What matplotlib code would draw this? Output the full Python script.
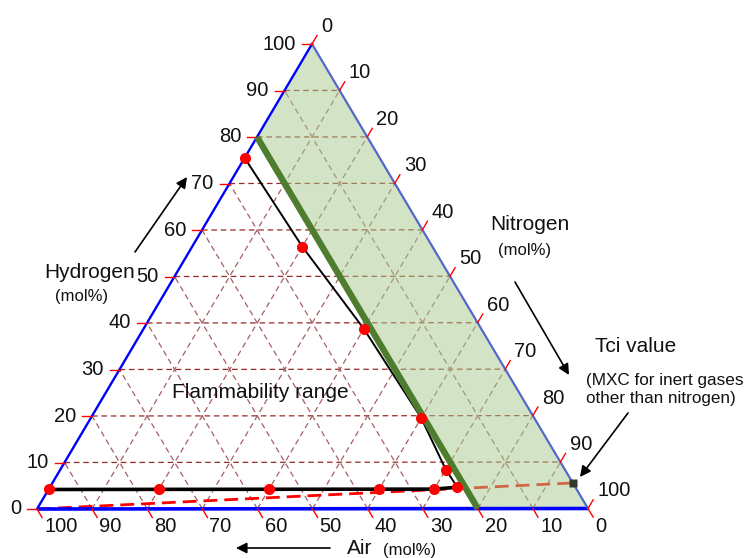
import matplotlib
matplotlib.use('Agg')
import matplotlib.pyplot as plt
from matplotlib.patches import Polygon
import numpy as np

plt.rcParams['font.family'] = ['Liberation Sans', 'DejaVu Sans']

# ---------------- data (mol%) ----------------
tick_values = [0, 10, 20, 30, 40, 50, 60, 70, 80, 90, 100]
grid_values = [10, 20, 30, 40, 50, 60, 70, 80, 90]

# upper flammability branch: hydrogen / nitrogen
upper_h2 = [75.5, 56.4, 38.7, 19.5, 8.4, 4.6]
upper_n2 = [0, 20, 40, 60, 70, 74]
# lower flammability branch
lower_h2 = [4.2, 4.2, 4.2, 4.2, 4.2, 4.6]
lower_n2 = [0, 20, 40, 60, 70, 74]
# Tci point (on H2/N2 side) and air limit line
tci_h2, tci_n2 = 5.5, 94.5
air_limit = 20

# ---------------- geometry ----------------
BL = (37.0, 509.0)   # Air 100
BR = (588.0, 508.5)  # N2 100
TOP = (312.0, 44.0)  # H2 100


def P(h, n):
    h = np.asarray(h, dtype=float) / 100.0
    n = np.asarray(n, dtype=float) / 100.0
    x = BL[0] + n * (BR[0] - BL[0]) + h * (TOP[0] - BL[0])
    y = BL[1] + n * (BR[1] - BL[1]) + h * (TOP[1] - BL[1])
    return x, y


fig = plt.figure(figsize=(7.5, 5.58), dpi=100)
ax = fig.add_axes([0, 0, 1, 1])
ax.set_xlim(0, 750)
ax.set_ylim(558, 0)
ax.axis('off')

grid_h_col = '#992A2A'
grid_s_col = '#A46060'
dash = (0, (4.5, 3.0))

# horizontal grid (constant H2)
for v in grid_values:
    x, y = P([v, v], [0, 100 - v])
    ax.plot(x, y, color=grid_h_col, lw=0.9, ls=dash, zorder=1)
# constant N2 (parallel to left side)
for v in grid_values:
    x, y = P([0, 100 - v], [v, v])
    ax.plot(x, y, color=grid_s_col, lw=0.9, ls=dash, zorder=1)
# constant Air (parallel to right side)
for v in grid_values:
    x, y = P([0, 100 - v], [100 - v, 0])
    ax.plot(x, y, color=grid_s_col, lw=0.9, ls=dash, zorder=1)

# red dashed line from Air vertex to Tci
x, y = P([0, tci_h2], [0, tci_n2])
ax.plot(x, y, color='#FF0000', lw=2.0, ls=(0, (5, 2.5)), zorder=2)

# green region: air < air_limit
gx, gy = P([100, 100 - air_limit, 0, 0], [0, 0, 100 - air_limit, 100])
ax.add_patch(Polygon(np.column_stack([gx, gy]), closed=True,
                     facecolor='#A7CB8D', edgecolor='none', alpha=0.5, zorder=3))

# triangle edges
x, y = P([0, 0], [0, 100])
ax.plot(x, y, color='#0000FF', lw=2.6, zorder=4, solid_capstyle='butt')
x, y = P([0, 100], [0, 0])
ax.plot(x, y, color='#0000FF', lw=1.7, zorder=4)
x, y = P([100, 0], [0, 100])
ax.plot(x, y, color='#5468CC', lw=1.6, zorder=4)

# ticks and labels
tl = 10.0
tfs = 14.5
for v in tick_values:
    # hydrogen (left side) - horizontal ticks
    x0, y0 = P(v, 0)
    ax.plot([x0 - tl, x0], [y0, y0], color='#FF0000', lw=1.0, zorder=4)
    ax.text(x0 - tl - 6, y0, str(v), ha='right', va='center', fontsize=tfs, color='#111111')
    # air (bottom) - ticks down-right
    x0, y0 = P(0, 100 - v)
    dx, dy = 0.51 * tl, 0.86 * tl
    ax.plot([x0, x0 + dx], [y0, y0 + dy], color='#FF0000', lw=1.0, zorder=4)
    ax.text(x0 + dx + 2, y0 + dy + 9, str(v), ha='left', va='center', fontsize=tfs, color='#111111')
    # nitrogen (right side) - ticks up-right
    x0, y0 = P(100 - v, v)
    dx, dy = 0.51 * tl, -0.86 * tl
    ax.plot([x0, x0 + dx], [y0, y0 + dy], color='#FF0000', lw=1.0, zorder=4)
    ax.text(x0 + dx + 4, y0 + dy - 9, str(v), ha='left', va='center', fontsize=tfs, color='#111111')

# flammability boundary
x, y = P(upper_h2, upper_n2)
ax.plot(x, y, color='black', lw=1.4, zorder=5)
x, y = P(lower_h2, lower_n2)
ax.plot(x, y, color='black', lw=2.6, zorder=5)

# air-limit line (green)
x, y = P([100 - air_limit, 0], [0, 100 - air_limit])
ax.plot(x, y, color='#4F7D2F', lw=4.6, zorder=6, solid_capstyle='butt')

# red data points
x, y = P(upper_h2, upper_n2)
ax.plot(x, y, 'o', color='#FF0000', ms=8, zorder=7, mec='none')
x, y = P(lower_h2[:-1], lower_n2[:-1])
ax.plot(x, y, 'o', color='#FF0000', ms=8, zorder=7, mec='none')

# Tci marker
x, y = P(tci_h2, tci_n2)
ax.plot(x, y, 's', color='#2F3A28', ms=6, zorder=8, mec='none')

# annotations
fs = 15
ax.text(44, 273, 'Hydrogen', ha='left', va='center', fontsize=fs, color='#111111')
ax.text(55, 296, '(mol%)', ha='left', va='center', fontsize=12, color='#111111')
ax.text(490, 224, 'Nitrogen', ha='left', va='center', fontsize=fs, color='#111111')
ax.text(498, 250, '(mol%)', ha='left', va='center', fontsize=12, color='#111111')
ax.text(595, 346, 'Tci value', ha='left', va='center', fontsize=fs, color='#111111')
ax.text(586, 380, '(MXC for inert gases', ha='left', va='center', fontsize=12.3, color='#111111')
ax.text(586, 398, 'other than nitrogen)', ha='left', va='center', fontsize=12.3, color='#111111')
ax.text(172, 393, 'Flammability range', ha='left', va='center', fontsize=fs, color='#111111')
ax.text(347, 548, 'Air', ha='left', va='center', fontsize=fs, color='#111111')
ax.text(383, 551, '(mol%)', ha='left', va='center', fontsize=12, color='#111111')

ap = dict(arrowstyle='-|>', color='black', lw=1.2, mutation_scale=16, shrinkA=0, shrinkB=0)
ax.annotate('', xy=(187, 177), xytext=(135, 252), arrowprops=ap)
ax.annotate('', xy=(569, 375), xytext=(515, 282), arrowprops=ap)
ax.annotate('', xy=(580, 477), xytext=(628, 413), arrowprops=ap)
ax.annotate('', xy=(236, 548), xytext=(330, 548), arrowprops=ap)

fig.savefig('out.png', dpi=100)
